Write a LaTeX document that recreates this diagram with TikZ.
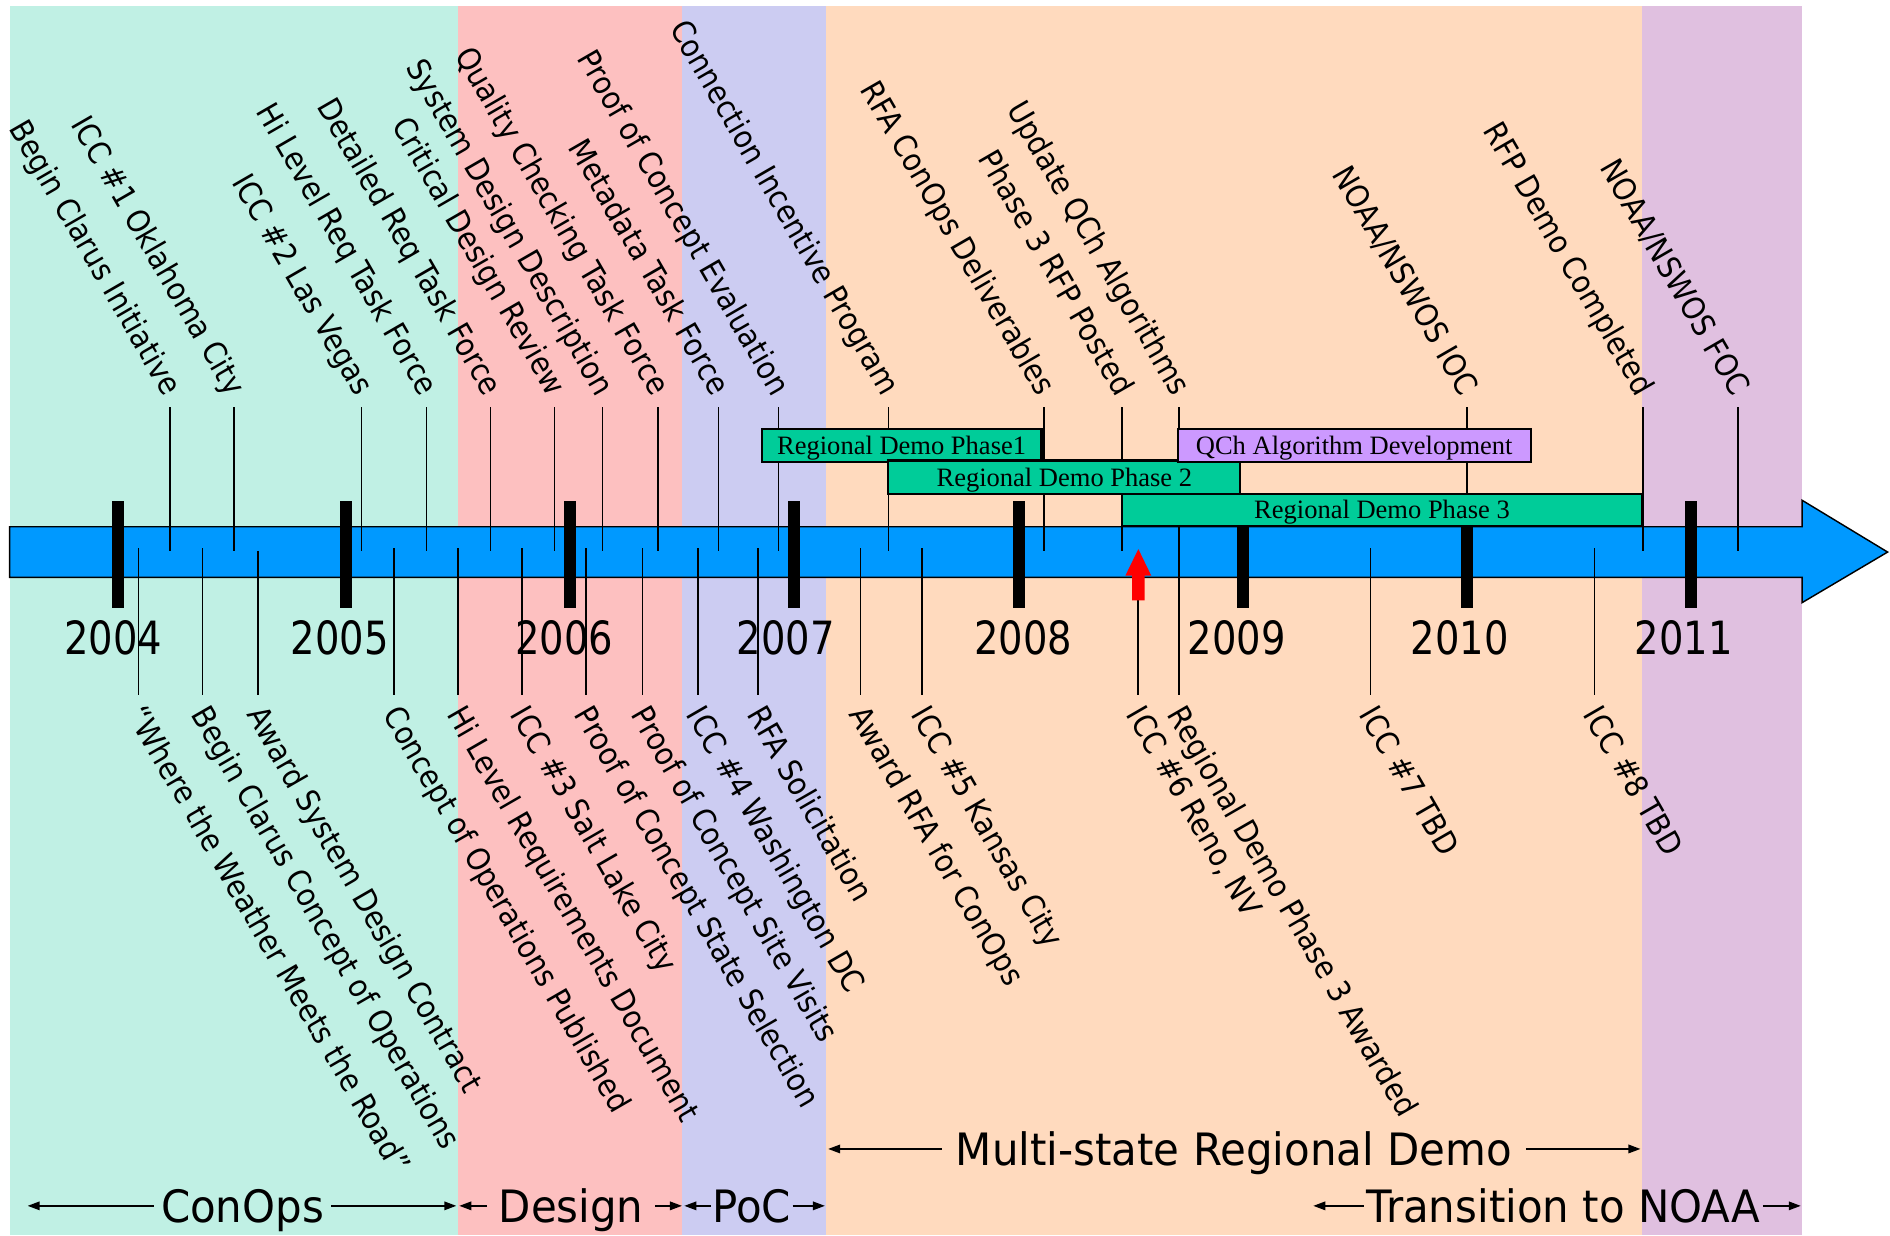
\documentclass[tikz,border=0pt]{standalone}
\usepackage{fontspec}
\usetikzlibrary{arrows.meta,calc}
\newfontfamily\labelfont[FakeStretch=0.9]{DejaVu Sans}
\newfontfamily\yearfont[FakeStretch=0.84]{DejaVu Sans}
\newfontfamily\phasefont[FakeStretch=0.94]{DejaVu Sans}
\newfontfamily\barfont{Liberation Serif}
\definecolor{bandConOps}{RGB}{192,240,228}
\definecolor{bandDesign}{RGB}{253,192,192}
\definecolor{bandPoC}{RGB}{204,204,242}
\definecolor{bandDemo}{RGB}{255,218,190}
\definecolor{bandNOAA}{RGB}{224,192,224}
\definecolor{axisblue}{RGB}{0,153,255}
\definecolor{demogreen}{RGB}{0,204,153}
\definecolor{qchlilac}{RGB}{204,153,255}
\begin{document}
\begin{tikzpicture}[x=1pt,y=-1pt,
  evline/.style={line width=1.3pt},
  evtext/.style={font=\labelfont\fontsize{26}{28}\selectfont, inner sep=0pt, rotate=-60},
  yeartext/.style={font=\yearfont\fontsize{38}{40}\selectfont, inner sep=0pt, anchor=base},
  taskbox/.style={draw=black, line width=1.8pt, inner xsep=0pt, inner ysep=0pt,
    text height=14.6pt, text depth=0pt,
    font=\barfont\fontsize{22}{24}\selectfont},
  phasetext/.style={font=\phasefont\fontsize{37}{40}\selectfont,
    text height=26.8pt, text depth=0pt, inner ysep=0pt},
  span/.style={line width=1.5pt, -{Triangle[length=10pt,width=7pt]}}
]
\useasboundingbox (0,0) rectangle (1568,1024.6);

% phase bands
\fill[bandConOps] (8,5) rectangle (380,1024.6);
\fill[bandDesign] (380,5) rectangle (566,1024.6);
\fill[bandPoC]    (566,5) rectangle (685,1024.6);
\fill[bandDemo]   (685,5) rectangle (1362,1024.6);
\fill[bandNOAA]   (1362,5) rectangle (1495,1024.6);

% time axis
\draw[fill=axisblue, line width=1.2pt]
  (8,437) -- (1495,437) -- (1495,415) -- (1566,458) -- (1495,500)
  -- (1495,479) -- (8,479) -- cycle;

% year ticks and labels
\foreach \tx in {98,287,473,659,845,1031,1217,1403}
  \fill[black] ({\tx-5},416) rectangle ({\tx+5},504);
\foreach \xp/\yr in {94/2004,282/2005,468/2006,652/2007,849/2008,1026/2009,1211/2010,1397/2011}
  \node[yeartext] (y\yr) at (\xp,542.6) {\yr};

% events above the axis
\foreach \x/\t [count=\i] in {
  141/Begin Clarus Initiative,
  194/ICC \#1 Oklahoma City,
  300/ICC \#2 Las Vegas,
  354/Hi Level Req Task Force,
  407/Detailed Req Task Force,
  460/Critical Design Review,
  500/System Design Description,
  546/Quality Checking Task Force,
  596/Metadata Task Force,
  646/Proof of Concept Evaluation,
  737/Connection Incentive Program,
  866/RFA ConOps Deliverables,
  931/Phase 3 RFP Posted,
  978/Update QCh Algorithms,
  1217/{NOAA/NSWOS IOC},
  1363/RFP Demo Completed,
  1442/{NOAA/NSWOS FOC}}{
  \coordinate (tt\i) at (\x,338);
  \coordinate (tb\i) at (\x,457);
  \draw[evline] (tt\i) -- (tb\i);
  \node[evtext, anchor=base east] (tl\i) at ($(tt\i)+(-5,-8)$) {\t};
}

% events below the axis
\foreach \x/\ys/\t [count=\i] in {
  115/455/{“Where the Weather Meets the Road”},
  168/455/Begin Clarus Concept of Operations,
  214/457/Award System Design Contract,
  327/455/Concept of Operations Published,
  380/455/Hi Level Requirements Document,
  433/455/ICC \#3 Salt Lake City,
  486/455/Proof of Concept State Selection,
  533/455/Proof of Concept Site Visits,
  579/455/ICC \#4 Washington DC,
  629/455/RFA Solicitation,
  714/455/Award RFA for ConOps,
  765/455/ICC \#5 Kansas City,
  944/498/{ICC \#6 Reno, NV},
  978/437/Regional Demo Phase 3 Awarded,
  1137/455/ICC \#7 TBD,
  1323/455/ICC \#8 TBD}{
  \coordinate (bt\i) at (\x,\ys);
  \coordinate (bb\i) at (\x,577);
  \draw[evline] (bt\i) -- (bb\i);
  \node[evtext, anchor=base west] (bl\i) at ($(bb\i)+(-10,16)$) {\t};
}

% marker for the current date
\fill[red] (939.2,498) -- (939.2,477.6) -- (933.6,477.6) -- (944.4,455.5)
  -- (955.1,477.6) -- (949.6,477.6) -- (949.6,498) -- cycle;

% project phase bars
\node[taskbox, fill=demogreen, minimum width=232pt, minimum height=27pt] (ph1)
  at (748,369.5) {Regional Demo Phase1};
\node[taskbox, fill=demogreen, minimum width=292pt, minimum height=28pt] (ph2)
  at (883,396) {Regional Demo Phase 2};
\node[taskbox, fill=demogreen, minimum width=431pt, minimum height=27pt] (ph3)
  at (1146.5,423) {Regional Demo Phase 3};
\node[taskbox, fill=qchlilac, minimum width=293pt, minimum height=27pt] (qch)
  at (1123.5,369.5) {QCh Algorithm Development};

% phase spans along the bottom
\node[phasetext, inner xsep=6pt] (conops) at (201.2,1000.4) {ConOps};
\coordinate (conopsL) at (22.9,1000.4);
\coordinate (conopsR) at (378.6,1000.4);
\draw[span] (conops.west) -- (conopsL);
\draw[span] (conops.east) -- (conopsR);

\node[phasetext, inner xsep=9.5pt] (design) at (473.8,1000.4) {Design};
\coordinate (designL) at (381,1000.4);
\coordinate (designR) at (565.8,1000.4);
\draw[span] (design.west) -- (designL);
\draw[span] (design.east) -- (designR);

\node[phasetext, inner xsep=1pt] (poc) at (623.7,1000.4) {PoC};
\coordinate (pocL) at (567.7,1000.4);
\coordinate (pocR) at (684.4,1000.4);
\draw[span] (poc.west) -- (pocL);
\draw[span] (poc.east) -- (pocR);

\node[phasetext, inner xsep=11.5pt] (demo) at (1023.6,953.2) {Multi-state Regional Demo};
\coordinate (demoL) at (687,953.2);
\coordinate (demoR) at (1361,953.2);
\draw[span] (demo.west) -- (demoL);
\draw[span] (demo.east) -- (demoR);

\node[phasetext, inner xsep=2pt] (noaa) at (1297,1000.4) {Transition to NOAA};
\coordinate (noaaL) at (1089.5,1000.4);
\coordinate (noaaR) at (1494,1000.4);
\draw[span] (noaa.west) -- (noaaL);
\draw[span] (noaa.east) -- (noaaR);
\end{tikzpicture}
\end{document}
